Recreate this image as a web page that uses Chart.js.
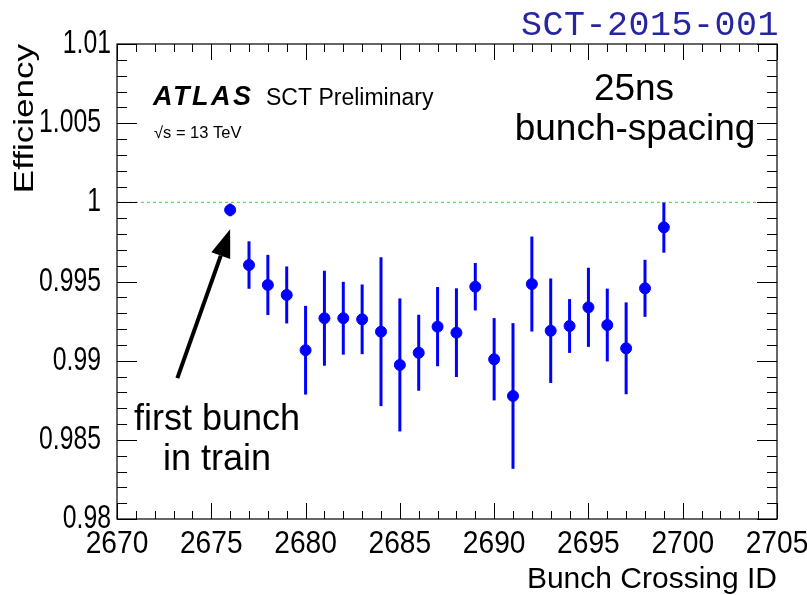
<!DOCTYPE html>
<html>
<head>
<meta charset="utf-8">
<title>SCT efficiency vs bunch crossing ID</title>
<script src="https://cdn.jsdelivr.net/npm/chart.js@4.4.1/dist/chart.umd.min.js"></script>
<style>
  html, body { margin: 0; padding: 0; background: #fff; }
  #chart { display: block; }
</style>
</head>
<body>
<canvas id="chart" width="807" height="595"></canvas>
<script>
// bunch crossing IDs and measured efficiency (with symmetric errors)
var bcid = [2676, 2677, 2678, 2679, 2680, 2681, 2682, 2683, 2684, 2685, 2686, 2687,
            2688, 2689, 2690, 2691, 2692, 2693, 2694, 2695, 2696, 2697, 2698, 2699];
var efficiency = [0.99952, 0.99604, 0.99478, 0.99415, 0.99066, 0.99268, 0.99268, 0.99261,
                  0.99183, 0.98973, 0.99050, 0.99215, 0.99177, 0.99467, 0.99009, 0.98777,
                  0.99484, 0.99189, 0.99219, 0.99337, 0.99225, 0.99078, 0.99457, 0.99842];
var effErr = [0.0004, 0.0015, 0.0019, 0.0018, 0.0028, 0.0030, 0.0023, 0.0022,
              0.0047, 0.0042, 0.0024, 0.0025, 0.0028, 0.0015, 0.0026, 0.0046,
              0.0030, 0.0033, 0.0017, 0.0025, 0.0023, 0.0029, 0.0018, 0.0016];

var xRange = [2670, 2705];
var yRange = [0.98, 1.01];
var xTicks = [2670, 2675, 2680, 2685, 2690, 2695, 2700, 2705];
var yTicks = [0.98, 0.985, 0.99, 0.995, 1, 1.005, 1.01];
var yTickLabels = ['0.98', '0.985', '0.99', '0.995', '1', '1.005', '1.01'];
var refLine = 1;

// arrow pointing at the first bunch (data coordinates)
var arrowTail = {x: 2673.2, y: 0.9889};
var arrowTip = {x: 2676.0, y: 0.9983};

var SANS = '"Liberation Sans", Arial, Helvetica, sans-serif';

function drawText(ctx, str, x, y, font, o) {
    o = o || {};
    ctx.save();
    ctx.translate(x, y);
    ctx.scale(o.sx || 1, 1);
    if (o.rot) ctx.rotate(o.rot);
    ctx.font = font;
    ctx.fillStyle = o.color || '#000';
    ctx.textAlign = o.align || 'left';
    ctx.textBaseline = o.base || 'alphabetic';
    if (o.spacing) ctx.letterSpacing = o.spacing;
    ctx.fillText(str, 0, 0);
    ctx.restore();
}

var rootStyle = {
    id: 'rootStyle',
    beforeDatasetsDraw: function (chart) {
        var ctx = chart.ctx, xs = chart.scales.x, ys = chart.scales.y;
        ctx.save();
        ctx.strokeStyle = '#0000ff';
        ctx.lineWidth = 3;
        bcid.forEach(function (b, i) {
            var px = xs.getPixelForValue(b);
            ctx.beginPath();
            ctx.moveTo(px, ys.getPixelForValue(efficiency[i] - effErr[i]));
            ctx.lineTo(px, ys.getPixelForValue(efficiency[i] + effErr[i]));
            ctx.stroke();
        });
        ctx.restore();
    },
    afterDatasetsDraw: function (chart) {
        var ctx = chart.ctx, xs = chart.scales.x, ys = chart.scales.y;
        var a = chart.chartArea;
        ctx.save();

        // frame
        ctx.strokeStyle = '#000';
        ctx.lineWidth = 1.2;
        ctx.strokeRect(a.left, a.top, a.right - a.left, a.bottom - a.top);

        // ticks, ROOT style: inside, on all four sides
        ctx.lineWidth = 1;
        ctx.beginPath();
        var v, px, len;
        for (v = xRange[0]; v <= xRange[1]; v++) {
            px = Math.round(xs.getPixelForValue(v)) + 0.5;
            len = (v % 5 === 0) ? 16 : 8;
            ctx.moveTo(px, a.bottom); ctx.lineTo(px, a.bottom - len);
            ctx.moveTo(px, a.top); ctx.lineTo(px, a.top + len);
        }
        for (var k = 0; k <= 30; k++) {
            v = yRange[0] + k * 0.001;
            var py = Math.round(ys.getPixelForValue(v)) + 0.5;
            len = (k % 5 === 0) ? 20 : 10;
            ctx.moveTo(a.left, py); ctx.lineTo(a.left + len, py);
            ctx.moveTo(a.right, py); ctx.lineTo(a.right - len, py);
        }
        ctx.stroke();

        // tick labels
        xTicks.forEach(function (t) {
            drawText(ctx, String(t), xs.getPixelForValue(t), 553, '32px ' + SANS,
                     {align: 'center', sx: 0.88});
        });
        yTicks.forEach(function (t, i) {
            var edge = (i === 0 || i === yTicks.length - 1) ? 111 : 101;
            drawText(ctx, yTickLabels[i], edge, ys.getPixelForValue(t), '33px ' + SANS,
                     {align: 'right', base: 'middle', sx: 0.75});
        });

        // axis titles
        drawText(ctx, 'Bunch Crossing ID', a.right, 588, '30px ' + SANS, {align: 'right'});
        drawText(ctx, 'Efficiency', 33, a.top, '35px ' + SANS,
                 {align: 'right', rot: -Math.PI / 2, sx: 0.8});

        // labels inside the frame
        drawText(ctx, 'ATLAS', 153, 105, 'italic bold 27px ' + SANS, {spacing: '2.5px'});
        drawText(ctx, 'SCT Preliminary', 266, 105, '23px ' + SANS);
        drawText(ctx, '\u221As = 13 TeV', 154, 138, '16.5px ' + SANS);
        drawText(ctx, '25ns', 634, 100, '37px ' + SANS, {align: 'center'});
        drawText(ctx, 'bunch-spacing', 635, 140, '37px ' + SANS, {align: 'center'});
        drawText(ctx, 'first bunch', 217, 430, '36px ' + SANS, {align: 'center'});
        drawText(ctx, 'in train', 217, 470, '36px ' + SANS, {align: 'center'});

        // document reference above the frame
        drawText(ctx, 'SCT-2015-001', 779, 35, '35px "Liberation Mono", "Courier New", monospace',
                 {align: 'right', color: '#2626a0', spacing: '0.5px'});

        // arrow
        var x0 = xs.getPixelForValue(arrowTail.x), y0 = ys.getPixelForValue(arrowTail.y);
        var x1 = xs.getPixelForValue(arrowTip.x), y1 = ys.getPixelForValue(arrowTip.y);
        var ang = Math.atan2(y1 - y0, x1 - x0);
        var headLen = 28, headHalf = 10;
        var bx = x1 - headLen * Math.cos(ang), by = y1 - headLen * Math.sin(ang);
        ctx.strokeStyle = '#000';
        ctx.fillStyle = '#000';
        ctx.lineWidth = 4;
        ctx.beginPath();
        ctx.moveTo(x0, y0);
        ctx.lineTo(bx, by);
        ctx.stroke();
        ctx.beginPath();
        ctx.moveTo(x1, y1);
        ctx.lineTo(bx + headHalf * Math.sin(ang), by - headHalf * Math.cos(ang));
        ctx.lineTo(bx - headHalf * Math.sin(ang), by + headHalf * Math.cos(ang));
        ctx.closePath();
        ctx.fill();

        ctx.restore();
    }
};

var points = bcid.map(function (b, i) { return {x: b, y: efficiency[i]}; });

new Chart(document.getElementById('chart'), {
    type: 'scatter',
    data: {
        datasets: [{
            label: 'Efficiency',
            data: points,
            backgroundColor: '#0000ff',
            borderColor: '#0000ff',
            pointRadius: 5.5,
            pointHoverRadius: 5.5,
            order: 1
        }, {
            type: 'line',
            label: 'reference',
            data: [{x: xRange[0], y: refLine}, {x: xRange[1], y: refLine}],
            borderColor: '#3ad83a',
            borderWidth: 1,
            borderDash: [3, 3],
            pointRadius: 0,
            fill: false,
            order: 2
        }]
    },
    options: {
        responsive: false,
        animation: false,
        layout: {padding: {left: 117, right: 30, top: 44, bottom: 76}},
        scales: {
            x: {type: 'linear', min: xRange[0], max: xRange[1], display: false},
            y: {type: 'linear', min: yRange[0], max: yRange[1], display: false}
        },
        plugins: {
            legend: {display: false},
            tooltip: {enabled: false}
        }
    },
    plugins: [rootStyle]
});
</script>
</body>
</html>
